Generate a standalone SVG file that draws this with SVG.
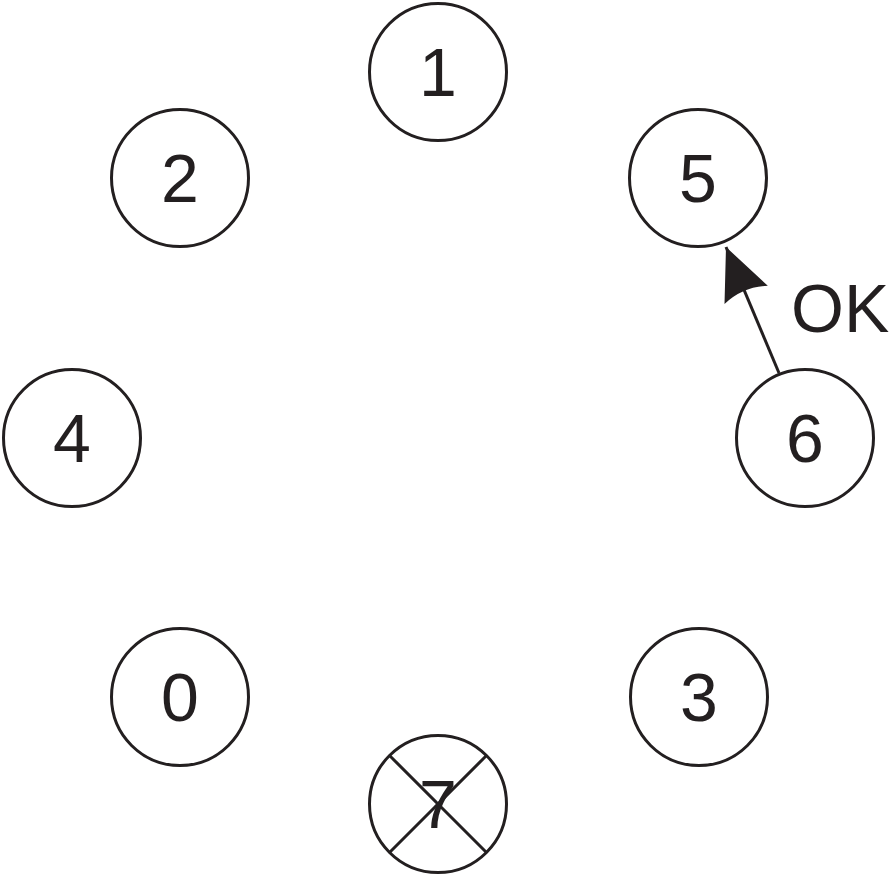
<svg xmlns="http://www.w3.org/2000/svg" width="892" height="883" viewBox="0 0 892 883">
<style>
.n circle{fill:#fff;stroke:#231f20;stroke-width:3}
.n text,.lbl{font-family:"Liberation Sans",Arial,sans-serif;font-size:68px;fill:#231f20}
.n text{text-anchor:middle}
.x{stroke:#231f20;stroke-width:3}
.edge{stroke:#231f20;stroke-width:3;fill:none}
</style>
<defs>
<marker id="ah" markerUnits="userSpaceOnUse" markerWidth="60" markerHeight="60" viewBox="-56 -28 60 56" refX="0" refY="0" orient="auto">
<path d="M0,0 L-52,-23.5 Q-43,0 -52,23.5 Z" fill="#231f20"/>
</marker>
</defs>
<rect width="892" height="883" fill="#fff"/>
<g id="connectors">
<line class="edge" x1="779" y1="373" x2="726" y2="247" marker-end="url(#ah)"/>
<text class="lbl" x="791" y="332">OK</text>
</g>
<g id="node1" class="n"><circle cx="438" cy="72" r="68.5"/><text x="438" y="96">1</text></g>
<g id="node2" class="n"><circle cx="180" cy="178" r="68.5"/><text x="180" y="202">2</text></g>
<g id="node5" class="n"><circle cx="698" cy="178" r="68.5"/><text x="698" y="202">5</text></g>
<g id="node4" class="n"><circle cx="72" cy="438" r="68.5"/><text x="72" y="462">4</text></g>
<g id="node6" class="n"><circle cx="805" cy="438" r="68.5"/><text x="805" y="462">6</text></g>
<g id="node0" class="n"><circle cx="180" cy="697" r="68.5"/><text x="180" y="721">0</text></g>
<g id="node3" class="n"><circle cx="699" cy="697" r="68.5"/><text x="699" y="721">3</text></g>
<g id="node7" class="n"><circle cx="438" cy="804" r="68.5"/><text x="438" y="828">7</text>
<line class="x" x1="390" y1="756" x2="486" y2="852"/><line class="x" x1="486" y1="756" x2="390" y2="852"/></g>
</svg>
